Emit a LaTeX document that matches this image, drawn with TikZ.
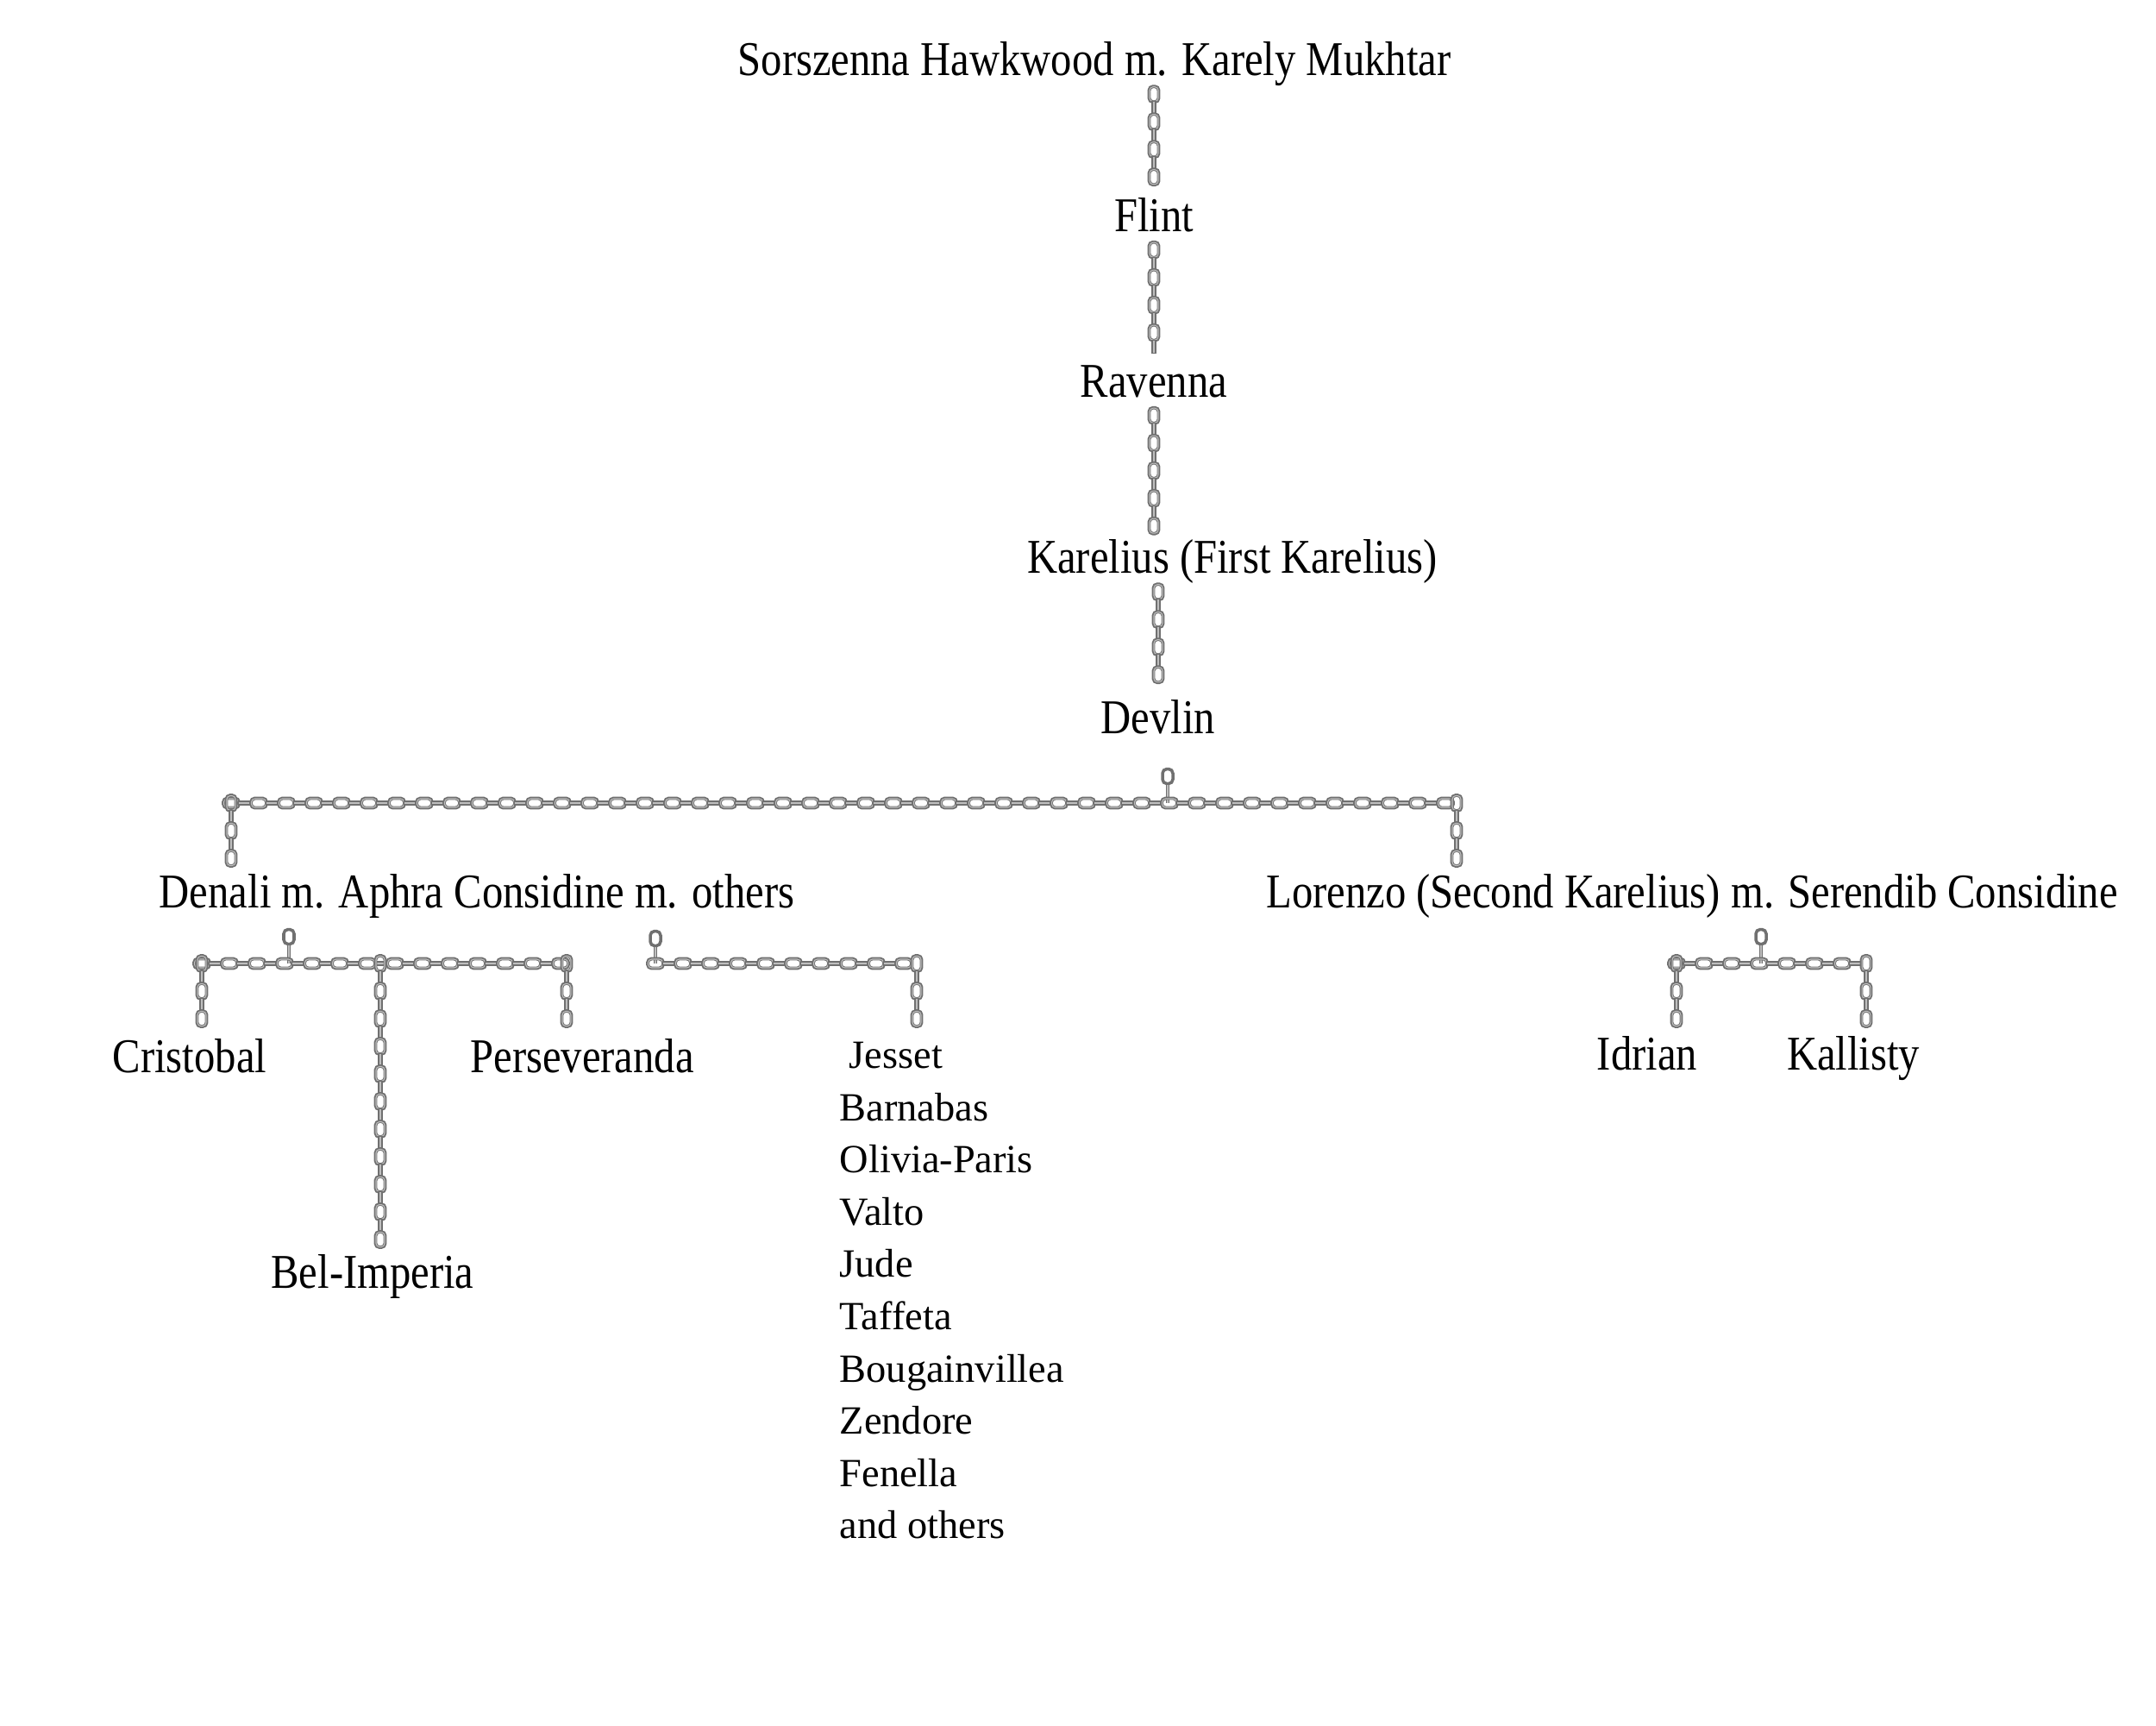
\documentclass[tikz,border=0pt]{standalone}
\usepackage{fontspec}
\setmainfont{Liberation Serif}[FakeStretch=0.865]
\newfontfamily\listfont{Liberation Serif}
\usetikzlibrary{decorations.markings}
\definecolor{linkgray}{RGB}{112,112,112}
\definecolor{linklight}{RGB}{190,190,190}
\tikzset{
    person/.style={inner sep=0pt, anchor=base, text height=0.54cm, text depth=0.21cm,
        font=\fontsize{16}{18}\selectfont},
    kid/.style={inner sep=0pt, anchor=base west, text height=0.5cm, text depth=0.15cm,
        font=\listfont\fontsize{13.2}{15}\selectfont},
    ring/.style={draw=linkgray, line width=1pt, rounded corners=0.05cm, inner sep=0pt,
        minimum width=0.12cm, minimum height=0.17cm},
    rod/.style={draw=linkgray, line width=1.4pt,
        postaction={draw=linklight, line width=0.4pt}},
    chain/.style={decoration={markings,
        mark=between positions 0 and 1 step 0.16cm with {
            \ifodd\pgfkeysvalueof{/pgf/decoration/mark info/sequence number}\relax
                \draw[linkgray, line width=1.1pt, rounded corners=0.045cm]
                    (-0.09,-0.055) rectangle (0.09,0.055);
                \draw[linklight, line width=0.3pt, rounded corners=0.04cm]
                    (-0.085,-0.05) rectangle (0.085,0.05);
            \else
                \draw[linkgray, line width=1.5pt] (-0.08,0) -- (0.08,0);
                \draw[linklight, line width=0.4pt] (-0.07,0) -- (0.07,0);
            \fi}},
        decorate}
}
\begin{document}
\begin{tikzpicture}
    \useasboundingbox (0,0) rectangle (25,-20);
    \begin{scope}
        % the line down to Devlin
        \node[person] (sor) at (12.69,-0.875) {Sorszenna Hawkwood m. Karely Mukhtar};
        \node[person] (flint) at (13.38,-2.68) {Flint};
        \node[person] (rav) at (13.38,-4.60) {Ravenna};
        \node[person] (kar) at (14.29,-6.645) {Karelius (First Karelius)};
        \node[person] (dev) at (13.43,-8.50) {Devlin};

        \path[chain] (flint.north |- sor.south) -- (flint.north);
        \path[chain] (rav.north |- flint.south) -- (rav.north);
        \path[chain] (rav.south) -- (rav.south |- kar.north);
        \path[chain] (dev.north |- kar.south) -- (dev.north);

        % Devlin's children
        \node[person] (denali) at (5.53,-10.52) {Denali m. Aphra Considine m. others};
        \node[person] (lor) at (19.62,-10.52) {Lorenzo (Second Karelius) m. Serendib Considine};

        \coordinate (dl) at (2.68,-9.31);
        \coordinate (dm) at (13.54,-9.31);
        \coordinate (dr) at (16.89,-9.31);
        \node[ring] (dev-hook) at (13.54,-9.0) {};
        \draw[rod] (dev-hook) -- (dm);
        \path[chain] (dl) -- (dr);
        \path[chain] (dl) -- (dl |- denali.north);
        \path[chain] (dr) -- (dr |- lor.north);

        % Denali and Aphra
        \node[person] (cris) at (2.20,-12.43) {Cristobal};
        \node[person] (pers) at (6.75,-12.43) {Perseveranda};
        \node[person] (bel) at (4.32,-14.93) {Bel-Imperia};

        \coordinate (aa) at (2.34,-11.17);
        \coordinate (am) at (3.35,-11.17);
        \coordinate (ac) at (4.41,-11.17);
        \coordinate (ab) at (6.57,-11.17);
        \node[ring] (aph-hook) at (3.35,-10.86) {};
        \draw[rod] (aph-hook) -- (am);
        \path[chain] (aa) -- (ab);
        \path[chain] (aa) -- (aa |- cris.north);
        \path[chain] (ac) -- (ac |- bel.north);
        \path[chain] (ab) -- (ab |- pers.north);

        % Denali and others
        \node[kid] (kid-0) at (9.84,-12.385) {Jesset};
        \foreach \kname [count=\i] in {Barnabas, Olivia-Paris, Valto, Jude, Taffeta,
            Bougainvillea, Zendore, Fenella, and others}
            \node[kid] (kid-\i) at (9.73,-12.385-0.606*\i) {\kname};

        \coordinate (oa) at (7.60,-11.17);
        \coordinate (ob) at (10.63,-11.17);
        \node[ring] (oth-hook) at (7.60,-10.88) {};
        \draw[rod] (oth-hook) -- (oa);
        \path[chain] (oa) -- (ob);
        \path[chain] (ob) -- (ob |- kid-0.north);

        % Lorenzo and Serendib
        \node[person] (idr) at (19.10,-12.40) {Idrian};
        \node[person] (kal) at (21.49,-12.40) {Kallisty};

        \coordinate (la) at (19.44,-11.17);
        \coordinate (lm) at (20.42,-11.17);
        \coordinate (lb) at (21.64,-11.17);
        \node[ring] (ser-hook) at (20.42,-10.86) {};
        \draw[rod] (ser-hook) -- (lm);
        \path[chain] (la) -- (lb);
        \path[chain] (la) -- (la |- idr.north);
        \path[chain] (lb) -- (lb |- kal.north);
    \end{scope}
\end{tikzpicture}
\end{document}
